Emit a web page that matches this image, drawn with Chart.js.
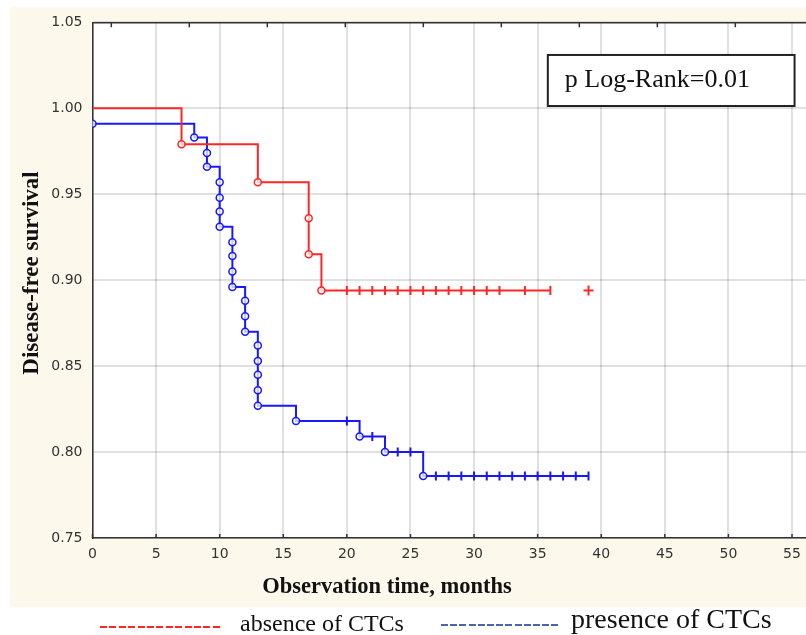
<!DOCTYPE html>
<html>
<head>
<meta charset="utf-8">
<title>Disease-free survival</title>
<script src="https://cdn.jsdelivr.net/npm/chart.js@4.4.1/dist/chart.umd.min.js"></script>
<style>
  body { margin: 0; background: #fff; width: 806px; height: 635px; position: relative; overflow: hidden; }
  #panel { position: absolute; left: 10px; top: 7px; width: 796px; height: 600px; background: #fcf8ec; }
  .dash { position: absolute; height: 2px; }
  .legend-text { position: absolute; font-family: "Liberation Serif", serif; color: #111; white-space: nowrap; line-height: 1; }
</style>
</head>
<body>
<div id="panel"><canvas id="km" width="796" height="600"></canvas></div>

<div class="dash" style="left:100px;top:626px;width:122px;background:repeating-linear-gradient(90deg,#ff2626 0 7px,transparent 7px 9.4px)"></div>
<div class="legend-text" style="left:240px;top:611px;font-size:24px">absence of CTCs</div>
<div class="dash" style="left:441px;top:624px;width:119px;background:repeating-linear-gradient(90deg,#4a64b0 0 7px,transparent 7px 9.2px)"></div>
<div class="legend-text" style="left:571px;top:605px;font-size:28px">presence of CTCs</div>

<script>
// absence of CTCs (red): event times and survival after each event
const redTimes = [0, 7, 13, 17, 17, 18];
const redSurvival = [1.0, 0.979, 0.957, 0.936, 0.915, 0.894];
const redLastTime = 36;
const redCensored = [20, 21, 22, 23, 24, 25, 26, 27, 28, 29, 30, 31, 32, 34, 36];
const redCensoredApart = [39];

// presence of CTCs (blue)
const blueTimes = [0, 8, 9, 9, 10, 10, 10, 10, 11, 11, 11, 11, 12, 12, 12, 13, 13, 13, 13, 13, 16, 21, 23, 26];
const blueSurvival = [0.991, 0.983, 0.974, 0.966, 0.957, 0.948, 0.940, 0.931, 0.922, 0.914, 0.905, 0.896,
                      0.888, 0.879, 0.870, 0.862, 0.853, 0.845, 0.836, 0.827, 0.818, 0.809, 0.800, 0.786];
const blueLastTime = 39;
const blueCensored = [20, 22, 24, 25, 27, 28, 29, 30, 31, 32, 33, 34, 35, 36, 37, 38, 39];

const pValueText = "p Log-Rank=0.01";

const RED = "#ff2626";
const BLUE = "#1818ff";

function stepPoints(times, surv, last) {
  const pts = times.map((t, i) => ({ x: t, y: surv[i] }));
  pts.push({ x: last, y: surv[surv.length - 1] });
  return pts;
}

function survivalAt(times, surv, t) {
  let s = surv[0];
  times.forEach((tt, i) => { if (tt <= t) s = surv[i]; });
  return s;
}

function censorPoints(times, surv, cens) {
  return cens.map(t => ({ x: t, y: survivalAt(times, surv, t) }));
}

function eventPoints(times, surv, from) {
  return times.slice(from).map((t, i) => ({ x: t, y: surv[i + from] }));
}

const circle = color => ({
  showLine: false,
  pointStyle: "circle",
  pointRadius: 3.5,
  pointBorderWidth: 1.5,
  pointBorderColor: color,
  pointBackgroundColor: "rgba(255,255,255,0.75)"
});

const tick = color => ({
  showLine: false,
  pointStyle: "line",
  pointRotation: 90,
  pointRadius: 4.5,
  pointBorderWidth: 2,
  pointBorderColor: color
});

// no extra room for edge labels, the plot fills the panel
const noPad = s => { s.paddingLeft = 0; s.paddingRight = 0; s.paddingTop = 0; s.paddingBottom = 0; };

// draws the white plot area, inner tick marks, p-value box and axis titles
const frame = {
  id: "frame",
  beforeDraw(chart) {
    const { ctx, chartArea: a } = chart;
    ctx.save();
    ctx.fillStyle = "#fff";
    ctx.fillRect(a.left, a.top, a.right - a.left, a.bottom - a.top);
    ctx.restore();
  },
  afterDraw(chart) {
    const { ctx, chartArea: a, scales } = chart;
    ctx.save();
    ctx.strokeStyle = "#333";
    ctx.lineWidth = 1.5;
    ctx.beginPath();
    scales.x.ticks.forEach(t => {
      const px = scales.x.getPixelForValue(t.value);
      ctx.moveTo(px, a.bottom);
      ctx.lineTo(px, a.bottom - 4);
    });
    scales.x2.ticks.forEach(t => {
      const px = scales.x2.getPixelForValue(t.value);
      ctx.moveTo(px, a.top);
      ctx.lineTo(px, a.top + 5);
    });
    ctx.stroke();

    // p-value box
    const x0 = scales.x.getPixelForValue(35.8), x1 = scales.x.getPixelForValue(55.2);
    const y0 = scales.y.getPixelForValue(1.031), y1 = scales.y.getPixelForValue(1.0013);
    ctx.fillStyle = "#fff";
    ctx.fillRect(x0, y0, x1 - x0, y1 - y0);
    ctx.strokeStyle = "#222";
    ctx.lineWidth = 2;
    ctx.strokeRect(x0, y0, x1 - x0, y1 - y0);
    ctx.fillStyle = "#111";
    ctx.font = '26px "Liberation Serif"';
    ctx.textBaseline = "alphabetic";
    ctx.fillText(pValueText, x0 + 17, scales.y.getPixelForValue(1.0123));

    // axis titles
    ctx.textAlign = "center";
    ctx.textBaseline = "middle";
    ctx.font = 'bold 22.5px "Liberation Serif"';
    ctx.fillText("Observation time, months", 377, 580);
    ctx.font = 'bold 23px "Liberation Serif"';
    ctx.translate(22, 266);
    ctx.rotate(-Math.PI / 2);
    ctx.fillText("Disease-free survival", 0, 0);
    ctx.restore();
  }
};

const tickFont = { family: "DejaVu Sans", size: 14 };
const gridStyle = { color: "rgba(0,0,0,0.12)", lineWidth: 2, drawTicks: false };

new Chart(document.getElementById("km"), {
  type: "line",
  data: {
    datasets: [
      { data: censorPoints(redTimes, redSurvival, redCensored), ...tick(RED) },
      { data: censorPoints(redTimes, redSurvival, redCensoredApart), showLine: false,
        pointStyle: "cross", pointRadius: 5, pointBorderWidth: 2, pointBorderColor: RED },
      { data: eventPoints(redTimes, redSurvival, 1), ...circle(RED) },
      { data: stepPoints(redTimes, redSurvival, redLastTime), stepped: "before",
        borderColor: RED, borderWidth: 2, pointRadius: 0, fill: false },
      { data: censorPoints(blueTimes, blueSurvival, blueCensored), ...tick(BLUE) },
      { data: eventPoints(blueTimes, blueSurvival, 0), ...circle(BLUE) },
      { data: stepPoints(blueTimes, blueSurvival, blueLastTime), stepped: "before",
        borderColor: BLUE, borderWidth: 2, pointRadius: 0, fill: false }
    ]
  },
  options: {
    responsive: false,
    animation: false,
    devicePixelRatio: 1,
    layout: { padding: 0, autoPadding: false },
    plugins: { legend: { display: false }, tooltip: { enabled: false } },
    scales: {
      x: {
        type: "linear",
        position: "bottom",
        min: 0,
        max: 56.1,
        ticks: { stepSize: 5, includeBounds: false, padding: 8, color: "#333", font: tickFont, maxRotation: 0, autoSkip: false },
        grid: gridStyle,
        border: { color: "#333", width: 1.5 },
        afterFit: s => { s.height = 69; noPad(s); }
      },
      x2: {
        type: "linear",
        position: "top",
        min: -0.241,
        max: 8.906,
        ticks: { display: false, stepSize: 1, includeBounds: false },
        grid: { drawOnChartArea: false, drawTicks: false },
        border: { color: "#333", width: 1.5 },
        afterFit: s => { s.height = 15.3; noPad(s); }
      },
      y: {
        min: 0.75,
        max: 1.05,
        ticks: { stepSize: 0.05, padding: 10, color: "#333", font: tickFont, callback: v => v.toFixed(2) },
        grid: gridStyle,
        border: { color: "#333", width: 1.5 },
        afterFit: s => { s.width = 82.5; noPad(s); }
      }
    }
  },
  plugins: [frame]
});
</script>
</body>
</html>
